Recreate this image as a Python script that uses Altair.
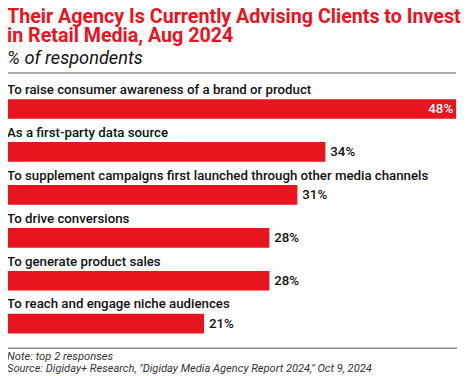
import altair as alt
import pandas as pd

categories = [
    "To raise consumer awareness of a brand or product",
    "As a first-party data source",
    "To supplement campaigns first launched through other media channels",
    "To drive conversions",
    "To generate product sales",
    "To reach and engage niche audiences",
]
values = [48, 34, 31, 28, 28, 21]

title_lines = ["Their Agency Is Currently Advising Clients to Invest", "in Retail Media, Aug 2024"]
subtitle = "% of respondents"
note = "Note: top 2 responses"
source = 'Source: Digiday+ Research, "Digiday Media Agency Report 2024," Oct 9, 2024'

df = pd.DataFrame({"category": categories, "value": values})
df["label"] = df["value"].astype(str) + "%"

RED = "#e8141e"
GRAY = "#8c8c8c"
FONT = "Roboto"

xscale = alt.Scale(domain=[0, 48], range=[0, 456], nice=False, zero=True)
x = alt.X("value:Q", scale=xscale, axis=None)
y = alt.Y("category:N", sort=categories,
          scale=alt.Scale(range=[89.5, 328], paddingInner=0.542, paddingOuter=0), axis=None)

base = alt.Chart(df)
bars = base.mark_bar(color=RED).encode(x=x, y=y)
cat_labels = base.mark_text(align="left", baseline="alphabetic", dy=-15.5, fontSize=13.5,
                            fontWeight=500, font=FONT, color="#111").encode(
    x=alt.value(-1), y=y, text="category:N")
out_labels = base.transform_filter("datum.value < 40").mark_text(
    align="left", baseline="middle", dx=5, fontSize=13.5, fontWeight=500, font=FONT,
    color="#111").encode(x=x, y=y, text="label:N")
in_labels = base.transform_filter("datum.value >= 40").mark_text(
    align="right", baseline="middle", dx=-3, fontSize=13.5, fontWeight=500, font=FONT,
    color="white").encode(x=x, y=y, text="label:N")

one = pd.DataFrame({"k": [0]})


def txt(s, px, py, size, weight="normal", style="normal", color="#111"):
    return alt.Chart(one).mark_text(
        text=s, align="left", baseline="alphabetic", fontSize=size, fontWeight=weight,
        fontStyle=style, font=FONT, color=color).encode(x=alt.value(px), y=alt.value(py))


rule_top = alt.Chart(one).transform_calculate(a="0", b="48").mark_rule(
    color=GRAY, strokeWidth=1.5).encode(
    x=alt.X("a:Q", scale=xscale, axis=None), x2="b:Q", y=alt.value(63))
rule_bottom = alt.Chart(one).mark_rule(color=GRAY, strokeWidth=1.5).encode(
    x=alt.value(0), x2=alt.value(457), y=alt.value(343))

layers = [
    txt(title_lines[0], -1, 12, 20, "bold", color=RED),
    txt(title_lines[1], -1, 31.5, 20, "bold", color=RED),
    txt(subtitle, -1, 54, 18.5, style="italic"),
    bars, cat_labels, out_labels, in_labels,
    rule_top, rule_bottom,
    txt(note, -1, 355, 11.4, style="italic", color="#333"),
    txt(source, -1, 367, 11.3, style="italic", color="#333"),
]

chart = alt.layer(*layers).properties(
    width=462, height=368, autosize="none", padding=0
).configure_view(stroke=None)

chart.save("out.html", embed_options={"renderer": "svg", "actions": False})
